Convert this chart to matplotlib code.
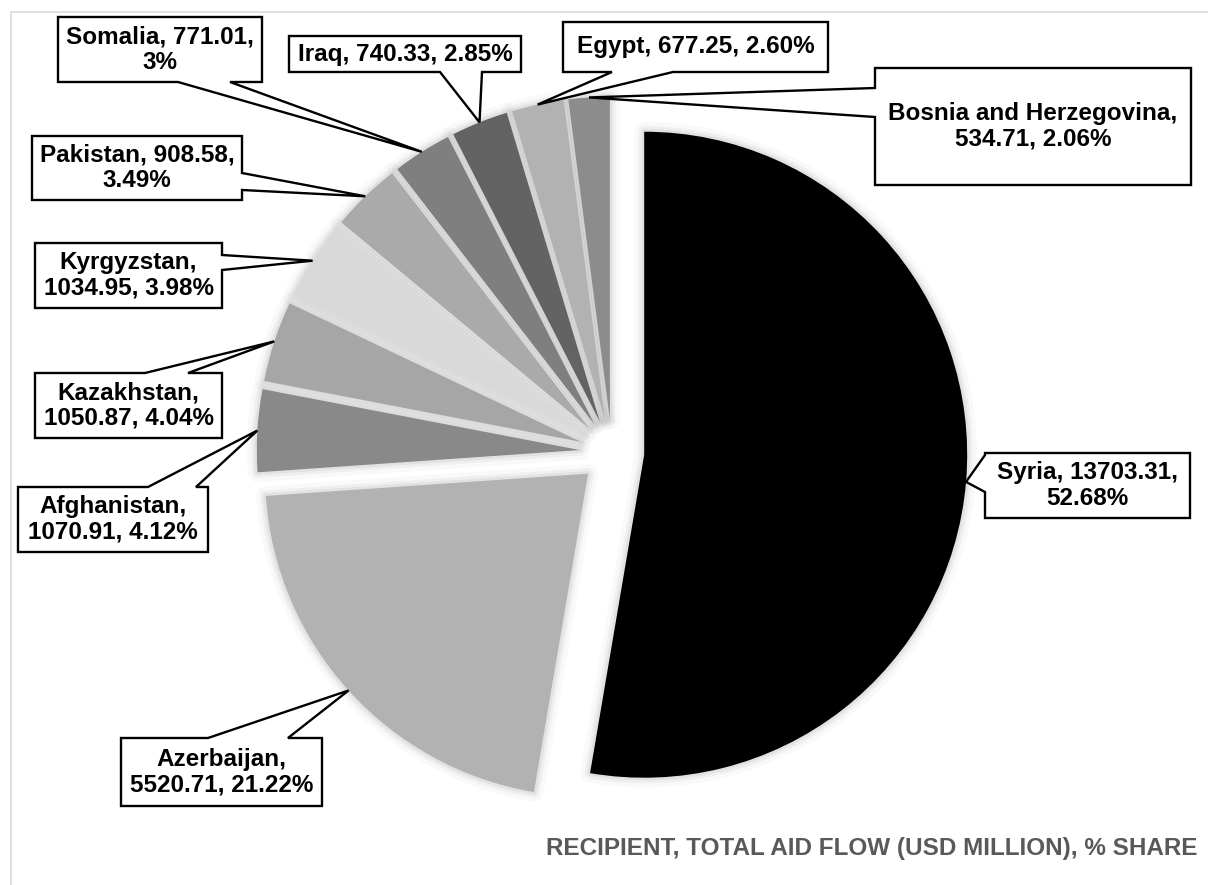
import math
import matplotlib.pyplot as plt
from matplotlib.patches import Polygon, Rectangle, Wedge

W, H = 1208, 885

recipients = ["Syria", "Azerbaijan", "Afghanistan", "Kazakhstan", "Kyrgyzstan",
              "Pakistan", "Somalia", "Iraq", "Egypt", "Bosnia and Herzegovina"]
aid_flow = [13703.31, 5520.71, 1070.91, 1050.87, 1034.95,
            908.58, 771.01, 740.33, 677.25, 534.71]
share_text = ["52.68%", "21.22%", "4.12%", "4.04%", "3.98%",
              "3.49%", "3%", "2.85%", "2.60%", "2.06%"]
slice_colors = ["#000000", "#b2b2b2", "#898989", "#a6a6a6", "#d9d9d9",
                "#aaaaaa", "#7f7f7f", "#636363", "#b2b2b2", "#8c8c8c"]
title = "RECIPIENT, TOTAL AID FLOW (USD MILLION), % SHARE"

# callout boxes in pixels from top-left: (left, top, right, bottom),
# side the tail leaves from, tail base span on that side, pieces on first line
callouts = {
    "Syria": ((985, 453, 1190, 518), "left", (455, 492), 2),
    "Azerbaijan": ((121, 738, 322, 806), "top", (208, 288), 1),
    "Afghanistan": ((18, 487, 208, 552), "top", (148, 196), 1),
    "Kazakhstan": ((35, 373, 222, 438), "top", (145, 188), 1),
    "Kyrgyzstan": ((35, 243, 222, 308), "right", (255, 270), 1),
    "Pakistan": ((32, 136, 242, 200), "right", (173, 190), 2),
    "Somalia": ((58, 17, 262, 82), "bottom", (178, 230), 2),
    "Iraq": ((289, 36, 521, 72), "bottom", (440, 482), 3),
    "Egypt": ((563, 22, 828, 72), "bottom", (612, 673), 3),
    "Bosnia and Herzegovina": ((875, 68, 1191, 185), "left", (88, 117), 1),
}

pie_center = (612, H - 452)
pie_radius = 323
label_font = dict(family="Liberation Sans", weight="bold", size=17.5)


def label_text(name, value, share, first_line):
    parts = [name, f"{value:.2f}", share]
    if first_line >= len(parts):
        return ", ".join(parts)
    return ", ".join(parts[:first_line]) + ",\n" + ", ".join(parts[first_line:])


def callout_outline(box, side, span, tip):
    x0, y0, x1, y1 = box
    a, b = sorted(span)
    if side == "top":
        pts = [(x0, y0), (a, y0), tip, (b, y0), (x1, y0), (x1, y1), (x0, y1)]
    elif side == "right":
        pts = [(x0, y0), (x1, y0), (x1, a), tip, (x1, b), (x1, y1), (x0, y1)]
    elif side == "bottom":
        pts = [(x0, y0), (x1, y0), (x1, y1), (b, y1), tip, (a, y1), (x0, y1)]
    else:
        pts = [(x0, y0), (x1, y0), (x1, y1), (x0, y1), (x0, b), tip, (x0, a)]
    # flip to data coordinates (y up)
    return [(x, H - y) for x, y in pts]


fig = plt.figure(figsize=(W / 100, H / 100), dpi=100)
ax = fig.add_axes([0, 0, 1, 1])

explode = [0.1 * pie_radius] * len(aid_flow)
wedges, _ = ax.pie(aid_flow, colors=slice_colors, explode=explode,
                   center=pie_center, radius=pie_radius, startangle=90,
                   counterclock=False, wedgeprops=dict(linewidth=0))

# pie() resets the limits, so pin the axes to pixel units afterwards
ax.set_xlim(0, W)
ax.set_ylim(0, H)
ax.set_aspect("equal")
ax.axis("off")

# light chart-area frame
ax.add_patch(Rectangle((11, -10), W + 10, H - 12 + 10, facecolor="none",
                       edgecolor="#d9d9d9", linewidth=1.2, zorder=0))

for w in wedges:
    w.set_zorder(2)
    # soft glow round each slice
    for lw, alpha in [(14, 0.025), (8, 0.04), (4, 0.05)]:
        ax.add_patch(Wedge(w.center, w.r, w.theta1, w.theta2, facecolor="none",
                           edgecolor="black", linewidth=lw, alpha=alpha,
                           joinstyle="round", zorder=1))

for w, name, value, share in zip(wedges, recipients, aid_flow, share_text):
    box, side, span, first_line = callouts[name]
    mid = math.radians(0.5 * (w.theta1 + w.theta2))
    tx = w.center[0] + w.r * math.cos(mid)
    ty = w.center[1] + w.r * math.sin(mid)
    outline = callout_outline(box, side, span, (tx, H - ty))
    ax.add_patch(Polygon(outline, closed=True, facecolor="white",
                         edgecolor="black", linewidth=1.7, joinstyle="miter",
                         zorder=3))
    cx = 0.5 * (box[0] + box[2])
    cy = H - 0.5 * (box[1] + box[3])
    ax.text(cx, cy, label_text(name, value, share, first_line), ha="center",
            va="center", linespacing=1.15, color="black", zorder=4, **label_font)

ax.text(1198, H - 848, title, ha="right", va="center", color="#595959",
        **label_font)

fig.savefig("out.png", dpi=100)
